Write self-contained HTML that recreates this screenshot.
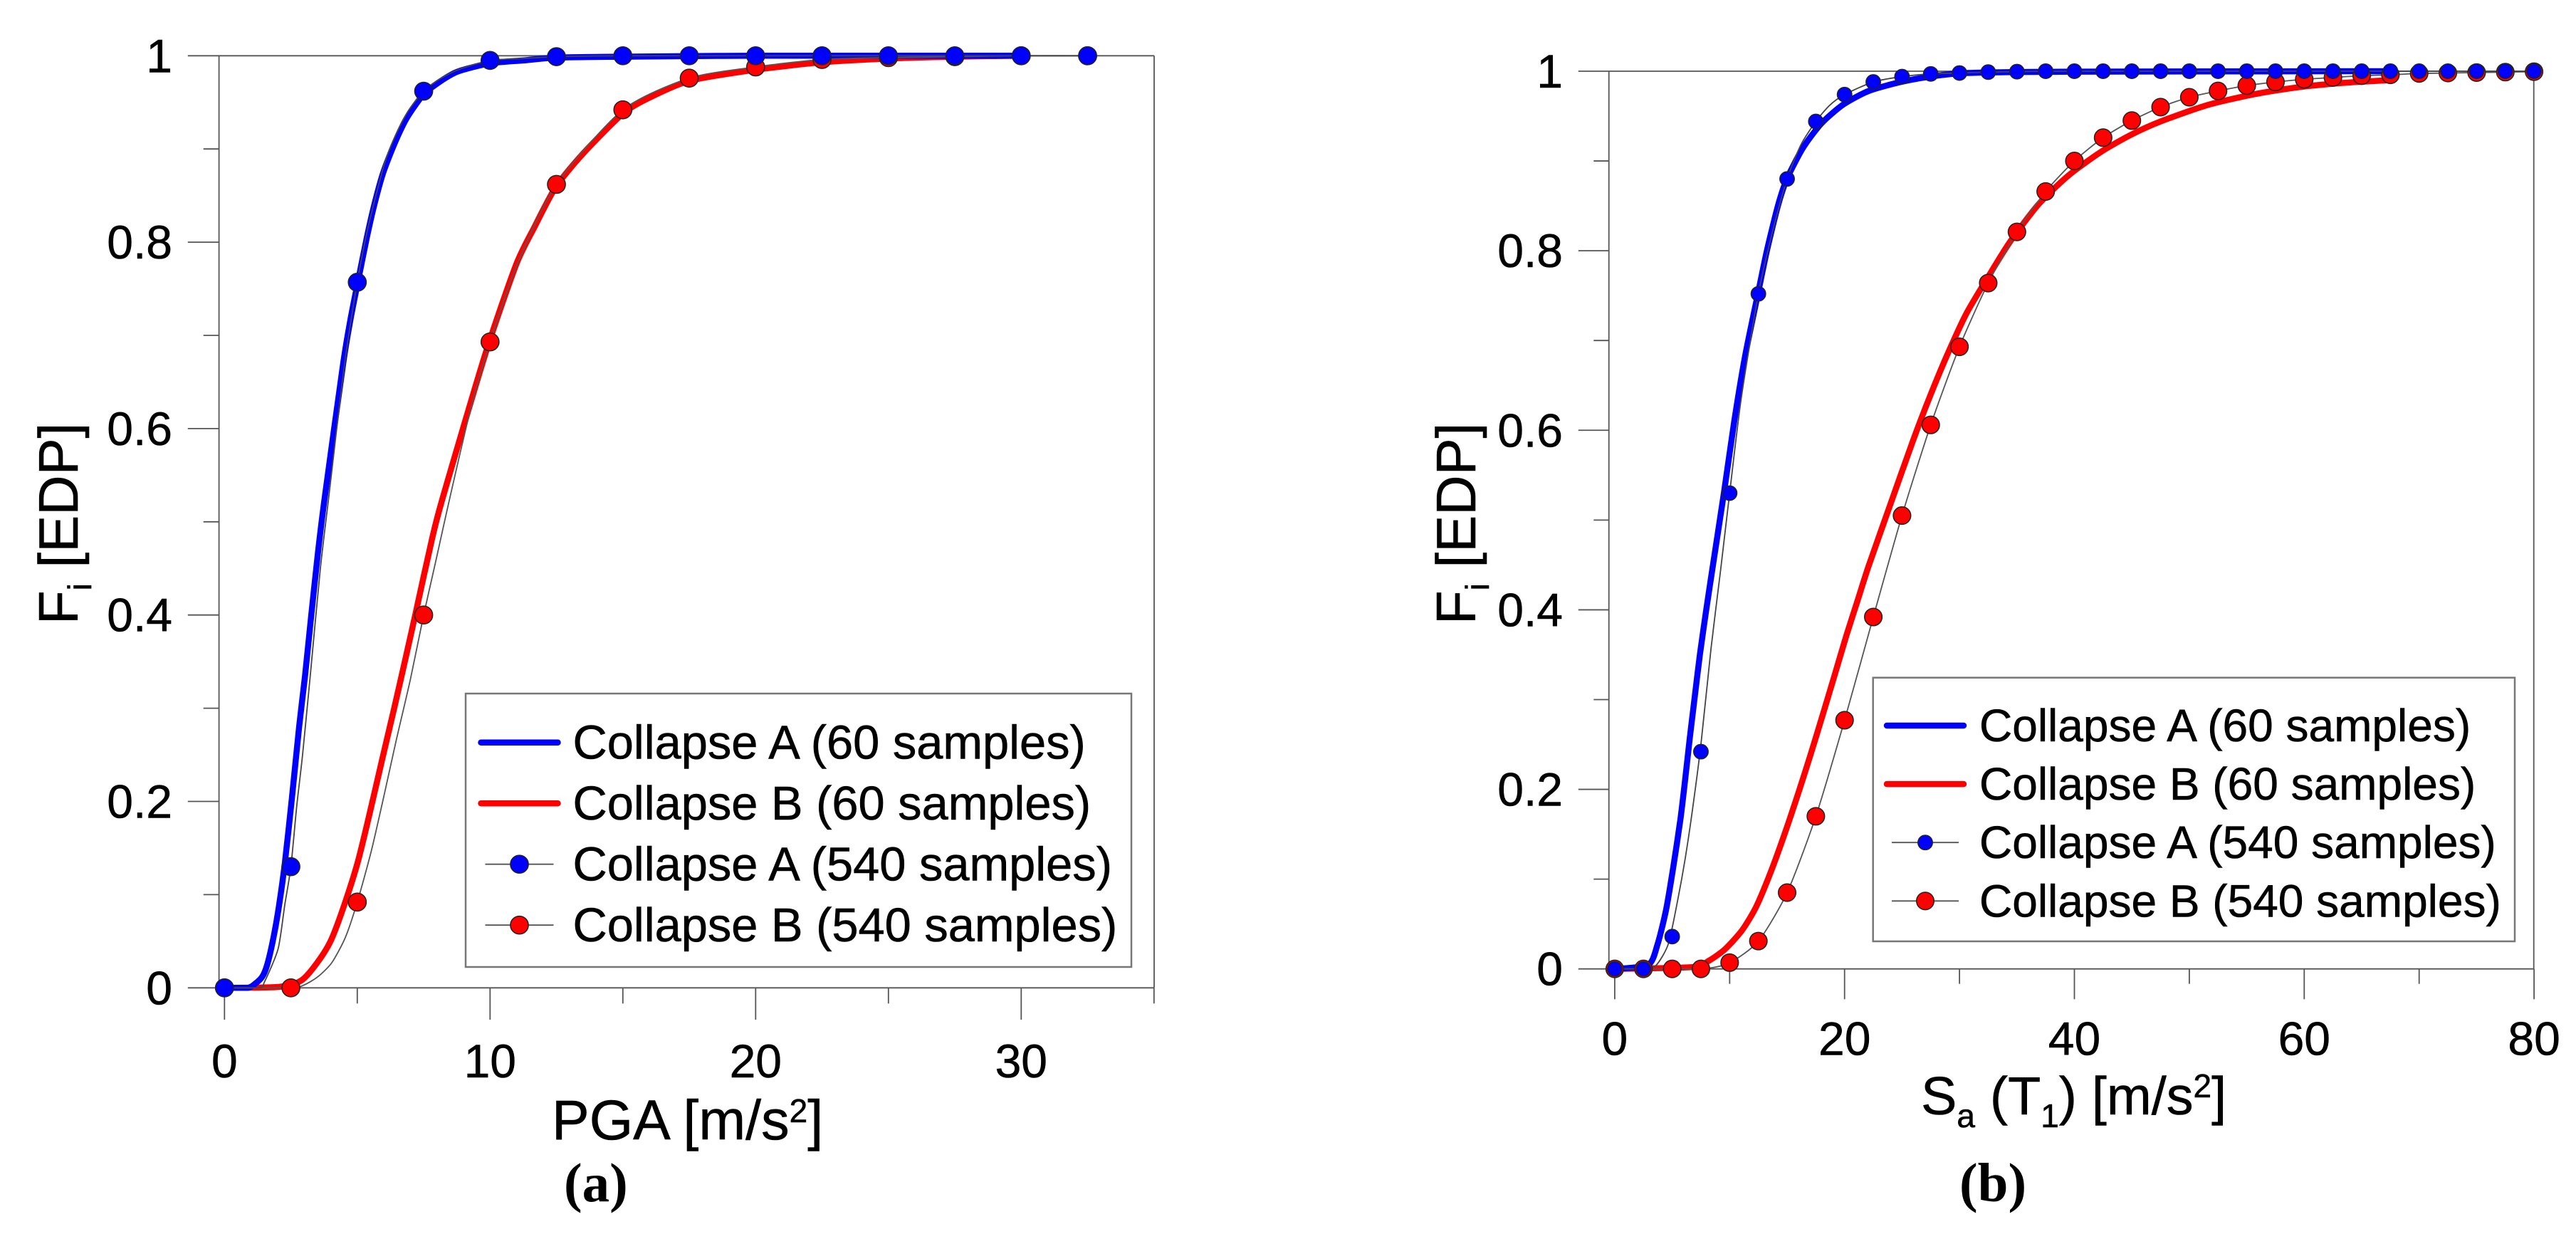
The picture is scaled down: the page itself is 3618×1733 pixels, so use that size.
<!DOCTYPE html>
<html lang="en">
<head>
<meta charset="utf-8">
<title>Fragility curves: PGA and Sa(T1)</title>
<style>
html,body{margin:0;padding:0;background:#fff;width:3618px;height:1733px;overflow:hidden}
svg{display:block}
text{font-family:"Liberation Sans",Arial,sans-serif;fill:#000;stroke:#000;stroke-width:.6px}
.cap{font-family:"Liberation Serif","Times New Roman",serif;font-weight:bold;font-size:77px;stroke:none}
</style>
</head>
<body>
<svg id="fig" xmlns="http://www.w3.org/2000/svg" width="3618" height="1733" viewBox="0 0 3618 1733">
<rect width="3618" height="1733" fill="#fff"/>
<g id="panelA"></g>
<g id="panelB"></g>
<text transform="translate(109,877) rotate(-90)" font-size="78">F<tspan font-size="46" dy="19">i</tspan><tspan dy="-19"> [EDP]</tspan></text>
<text x="775" y="1600" font-size="79">PGA [m/s<tspan font-size="46" dy="-24">2</tspan><tspan dy="24">]</tspan></text>
<text class="cap" x="792" y="1687">(a)</text>
<text transform="translate(2072,877) rotate(-90)" font-size="78">F<tspan font-size="46" dy="19">i</tspan><tspan dy="-19"> [EDP]</tspan></text>
<text x="2698" y="1565" font-size="75.5">S<tspan font-size="46" dy="18">a</tspan><tspan dy="-18"> (T</tspan><tspan font-size="46" dy="18">1</tspan><tspan dy="-18">) [m/s</tspan><tspan font-size="46" dy="-24">2</tspan><tspan dy="24">]</tspan></text>
<text class="cap" x="2752" y="1687">(b)</text>
</svg>
<script>
// ---------- Panel A data (PGA) ----------
const aXTicks = [0, 10, 20, 30];
const aXMinor = [5, 15, 25, 35];
const yTicks = [0, 0.2, 0.4, 0.6, 0.8, 1];
const yTickLabels = ["0", "0.2", "0.4", "0.6", "0.8", "1"];
const yMinor = [0.1, 0.3, 0.5, 0.7, 0.9];

const aBlueFitX = [0, 0.88, 1.15, 1.42, 1.6, 1.81, 2.02, 2.27, 2.54, 2.81, 3.03, 3.25, 3.52, 3.77, 4.47, 4.75, 5.02, 5.36, 5.64, 5.97, 6.39, 6.86, 7.48, 8.1, 8.78, 10, 11.25, 12.5, 15, 20, 30];
const aBlueFitY = [0, 0, 0.0043, 0.0118, 0.024, 0.049, 0.082, 0.133, 0.204, 0.28, 0.334, 0.395, 0.467, 0.525, 0.67, 0.718, 0.757, 0.805, 0.84, 0.874, 0.905, 0.933, 0.958, 0.972, 0.983, 0.992, 0.995, 0.998, 0.999, 1, 1];
const aRedFitX = [0, 2.05, 2.99, 4.01, 5, 5.97, 6.39, 6.83, 7.19, 7.81, 8.21, 9.8, 10.97, 11.65, 12.47, 13.5, 15, 16, 17.5, 20, 22.5, 25, 27.5, 30];
const aRedFitY = [0, 0.001, 0.01, 0.051, 0.133, 0.249, 0.3, 0.355, 0.401, 0.481, 0.525, 0.678, 0.775, 0.815, 0.859, 0.895, 0.938, 0.955, 0.973, 0.985, 0.993, 0.997, 0.999, 1];
const aBlueThinX = [0, 1.3, 1.51, 2.02, 2.27, 2.5, 2.72, 2.94, 3.25, 3.61, 3.92, 4.5, 5, 5.4, 6, 6.4, 6.9, 7.5, 8.1, 8.8, 10, 11.25, 12.5, 15, 20, 32.5];
const aBlueThinY = [0, 0, 0.0066, 0.042, 0.089, 0.13, 0.195, 0.25, 0.341, 0.45, 0.525, 0.665, 0.757, 0.815, 0.882, 0.912, 0.94, 0.962, 0.975, 0.985, 0.995, 0.997, 0.999, 1, 1, 1];
const aRedThinX = [0, 2.5, 2.99, 3.52, 4.04, 4.55, 5, 5.53, 6.02, 6.47, 7, 7.5, 7.95, 8.48, 9.3, 10, 11, 12.5, 15, 17.5, 20, 22.5, 25, 27.5, 30, 32.5];
const aRedThinY = [0, 0, 0.003, 0.012, 0.027, 0.054, 0.092, 0.147, 0.208, 0.266, 0.331, 0.4, 0.457, 0.525, 0.625, 0.693, 0.775, 0.862, 0.942, 0.976, 0.988, 0.996, 0.998, 0.999, 1, 1];
const aMarkerX = [0, 2.5, 5, 7.5, 10, 12.5, 15, 17.5, 20, 22.5, 25, 27.5, 30, 32.5];
const aBlueMarkers = [0, 0.13, 0.757, 0.962, 0.995, 0.999, 1, 1, 1, 1, 1, 1, 1, 1];
const aRedMarkers = [0, 0, 0.092, 0.4, 0.693, 0.862, 0.942, 0.976, 0.988, 0.996, 0.998, 0.999, 1, 1];

// ---------- Panel B data (Sa) ----------
const bXTicks = [0, 20, 40, 60, 80];
const bXMinor = [10, 30, 50, 70];
const bBlueFitX = [0, 2.92, 3.74, 4.47, 5.09, 5.71, 6.12, 6.53, 6.97, 7.42, 7.94, 8.49, 9.5, 10.4, 11.35, 12.46, 13.24, 14.2, 14.98, 16.4, 18, 19.9, 22.1, 24.9, 27.5, 30.6, 40, 67.4];
const bBlueFitY = [0, 0.0045, 0.028, 0.066, 0.113, 0.166, 0.21, 0.257, 0.304, 0.351, 0.398, 0.445, 0.53, 0.61, 0.683, 0.752, 0.8, 0.85, 0.88, 0.915, 0.942, 0.963, 0.978, 0.988, 0.994, 0.998, 0.9995, 1];
const bRedFitX = [0, 6.74, 8.18, 9.6, 11.08, 12.3, 13.55, 14.8, 16.03, 17.05, 18.1, 19.13, 20.15, 21.2, 22.1, 24, 26, 27.5, 28.9, 30.6, 32.5, 34.4, 36.9, 39.5, 42.3, 44.9, 47.5, 51.5, 55.5, 59.4, 63.4, 67.4];
const bRedFitY = [0, 0.002, 0.009, 0.022, 0.043, 0.069, 0.107, 0.151, 0.198, 0.239, 0.283, 0.327, 0.371, 0.413, 0.449, 0.518, 0.59, 0.64, 0.683, 0.73, 0.771, 0.81, 0.852, 0.884, 0.91, 0.929, 0.944, 0.962, 0.974, 0.982, 0.987, 0.99];
const bBlueThinX = [0, 2.5, 3.6, 4.67, 5.5, 6.12, 6.74, 7.5, 8.38, 9.22, 10, 11, 12.5, 13.8, 15, 16.2, 17.5, 18.7, 20, 22.5, 25, 27.5, 30, 32.5, 35, 40, 80];
const bBlueThinY = [0, 0, 0.004, 0.028, 0.078, 0.122, 0.175, 0.25, 0.357, 0.445, 0.53, 0.635, 0.752, 0.825, 0.88, 0.918, 0.944, 0.962, 0.974, 0.988, 0.994, 0.997, 0.998, 0.999, 0.9995, 1, 1];
const bRedThinX = [0, 7.5, 10, 12.5, 15, 17.5, 20, 22.5, 25, 27.5, 30, 32.5, 35, 37.5, 40, 42.5, 45, 47.5, 50, 52.5, 55, 57.5, 60, 62.5, 65, 67.5, 70, 72.5, 75, 77.5, 80];
const bMarkerX = [0, 2.5, 5, 7.5, 10, 12.5, 15, 17.5, 20, 22.5, 25, 27.5, 30, 32.5, 35, 37.5, 40, 42.5, 45, 47.5, 50, 52.5, 55, 57.5, 60, 62.5, 65, 67.5, 70, 72.5, 75, 77.5, 80];
const bBlueMarkers = [0, 0, 0.036, 0.242, 0.53, 0.752, 0.88, 0.944, 0.974, 0.988, 0.994, 0.997, 0.998, 0.999, 0.9995, 1, 1, 1, 1, 1, 1, 1, 1, 1, 1, 1, 1, 1, 1, 1, 1, 1, 1];
const bRedMarkers = [0, 0, 0, 0, 0.007, 0.031, 0.085, 0.17, 0.277, 0.392, 0.505, 0.606, 0.693, 0.764, 0.821, 0.866, 0.9, 0.926, 0.945, 0.96, 0.971, 0.978, 0.984, 0.988, 0.991, 0.993, 0.995, 0.996, 0.9975, 0.998, 0.9985, 0.999, 0.9995];
const bRedThinY = [0, 0, 0.007, 0.031, 0.085, 0.17, 0.277, 0.392, 0.505, 0.606, 0.693, 0.764, 0.821, 0.866, 0.9, 0.926, 0.945, 0.96, 0.971, 0.978, 0.984, 0.988, 0.991, 0.993, 0.995, 0.996, 0.9975, 0.998, 0.9985, 0.999, 0.9995];

const legendLabels = ["Collapse A (60 samples)", "Collapse B (60 samples)", "Collapse A (540 samples)", "Collapse B (540 samples)"];

const SVGNS = "http://www.w3.org/2000/svg";
function mk(parent, tag, attrs) {
  const el = document.createElementNS(SVGNS, tag);
  for (const k in attrs) el.setAttribute(k, attrs[k]);
  parent.appendChild(el);
  return el;
}
function smoothPath(pts) {
  let d = "M" + pts[0][0].toFixed(2) + " " + pts[0][1].toFixed(2);
  for (let i = 0; i < pts.length - 1; i++) {
    const p0 = pts[Math.max(i - 1, 0)], p1 = pts[i], p2 = pts[i + 1], p3 = pts[Math.min(i + 2, pts.length - 1)];
    const k = 0.12;
    const c1y = Math.min(Math.max(p1[1] + (p2[1] - p0[1]) * k, Math.min(p1[1], p2[1])), Math.max(p1[1], p2[1]));
    const c2y = Math.min(Math.max(p2[1] - (p3[1] - p1[1]) * k, Math.min(p1[1], p2[1])), Math.max(p1[1], p2[1]));
    d += "C" + (p1[0] + (p2[0] - p0[0]) * k).toFixed(2) + " " + c1y.toFixed(2) + " " + (p2[0] - (p3[0] - p1[0]) * k).toFixed(2) + " " + c2y.toFixed(2) + " " + p2[0].toFixed(2) + " " + p2[1].toFixed(2);
  }
  return d;
}

function drawPanel(cfg) {
  const g = cfg.g;
  const sx = v => cfg.x0 + cfg.xScale * v;
  const sy = v => cfg.y0 - cfg.yScale * v;
  const axisColor = "#555";
  const axes = mk(g, "g", { stroke: axisColor, "stroke-width": 1.8, fill: "none" });
  
  

  function seg(x1, y1, x2, y2, name) {
    const l = mk(axes, "line", { x1: x1, y1: y1, x2: x2, y2: y2 });
    
    
  }
  seg(cfg.axisX, sy(1), cfg.axisX, sy(0), "y-axis-line");
  seg(cfg.right, sy(1), cfg.right, sy(0), "right-axis-line");
  cfg.xTicks.forEach(v => {
    seg(sx(v), sy(0), sx(v), cfg.xMajorEnd, "x-major-tick");
    const t = mk(g, "text", { x: sx(v), y: cfg.xLabelY, "font-size": 66, "text-anchor": "middle" });
    t.textContent = String(v);
    
    
  });
  cfg.xMinor.forEach(v => seg(sx(v), sy(0), sx(v), cfg.xMinorEnd, "x-minor-tick"));
  yTicks.forEach((v, i) => {
    const endX = (v === 0 || v === 1) ? cfg.right : cfg.axisX;
    seg(cfg.yMajorEnd, sy(v), endX, sy(v), "y-major-tick");
    const t = mk(g, "text", { x: cfg.yLabelX, y: sy(v) + 23, "font-size": 66, "text-anchor": "end" });
    t.textContent = yTickLabels[i];
    
    
  });
  yMinor.forEach(v => seg(cfg.yMinorEnd, sy(v), cfg.axisX, sy(v), "y-minor-tick"));

  function curve(xs, ys, color, width, name) {
    const pts = xs.map((x, i) => [sx(x), sy(ys[i])]);
    const p = mk(g, "path", { d: smoothPath(pts), fill: "none", stroke: color, "stroke-width": width, "stroke-linejoin": "round", "stroke-linecap": "round" });
    
    
  }
  curve(cfg.redFitX, cfg.redFitY, "#ff0000", 8.5, "collapse-b-60-curve");
  curve(cfg.blueFitX, cfg.blueFitY, "#0000ff", 8.5, "collapse-a-60-curve");
  curve(cfg.redThinX, cfg.redThinY, "#555", 1.8, "collapse-b-540-line");
  curve(cfg.blueThinX, cfg.blueThinY, "#444", 1.8, "collapse-a-540-line");

  cfg.markerX.forEach((x, i) => {
    const c = mk(g, "circle", { cx: sx(x), cy: sy(cfg.redMarkers[i]), r: cfg.redR, fill: "#ff0000", stroke: "#222", "stroke-width": 1.5 });
    
    
  });
  cfg.markerX.forEach((x, i) => {
    const c = mk(g, "circle", { cx: sx(x), cy: sy(cfg.blueMarkers[i]), r: cfg.blueR, fill: "#0000ff", stroke: "#222", "stroke-width": 1.5 });
    
    
  });

  const L = cfg.legend;
  const lg = mk(g, "g", {});
  
  
  const box = mk(lg, "rect", { x: L.left, y: L.top, width: L.right - L.left, height: L.bottom - L.top, fill: "#fff", stroke: "#777", "stroke-width": 2.5 });
  
  
  const colors = ["#0000ff", "#ff0000", "#0000ff", "#ff0000"];
  const radii = [0, 0, cfg.blueR, cfg.redR];
  legendLabels.forEach((label, i) => {
    const y = L.rowY + L.rowStep * i;
    if (i < 2) {
      const s = mk(lg, "line", { x1: L.cx - L.thickHalf, y1: y, x2: L.cx + L.thickHalf, y2: y, stroke: colors[i], "stroke-width": 8.5, "stroke-linecap": "round" });
      
      
    } else {
      const s = mk(lg, "line", { x1: L.cx - L.thinHalf, y1: y, x2: L.cx + L.thinHalf, y2: y, stroke: "#555", "stroke-width": 1.8 });
      
      
      const m = mk(lg, "circle", { cx: L.cx, cy: y, r: radii[i], fill: colors[i], stroke: "#222", "stroke-width": 1.5 });
      
      
    }
    const t = mk(lg, "text", { x: L.textX, y: y + L.baseOff, "font-size": L.fontSize });
    t.textContent = label;
    
    
  });
}

drawPanel({
  g: document.getElementById("panelA"),
  x0: 315.3, xScale: 37.3, y0: 1387.3, yScale: 1309,
  axisX: 307.6, right: 1621, xMajorEnd: 1432, xMinorEnd: 1409.3, yMajorEnd: 263.8, yMinorEnd: 285.7,
  xLabelY: 1513, yLabelX: 242,
  xTicks: aXTicks, xMinor: aXMinor,
  blueFitX: aBlueFitX, blueFitY: aBlueFitY, redFitX: aRedFitX, redFitY: aRedFitY,
  blueThinX: aBlueThinX, blueThinY: aBlueThinY, redThinX: aRedThinX, redThinY: aRedThinY,
  markerX: aMarkerX, blueMarkers: aBlueMarkers, redMarkers: aRedMarkers, blueR: 12.6, redR: 12.6,
  legend: { left: 654, top: 974, right: 1589, bottom: 1358, rowY: 1042.7, rowStep: 85.5, cx: 729.5, thickHalf: 54, thinHalf: 48, textX: 804.5, baseOff: 23, fontSize: 66.8 }
});
drawPanel({
  g: document.getElementById("panelB"),
  x0: 2267.9, xScale: 16.14, y0: 1360.7, yScale: 1260.7,
  axisX: 2259.7, right: 3558.7, xMajorEnd: 1403.3, xMinorEnd: 1381.7, yMajorEnd: 2216.8, yMinorEnd: 2238.3,
  xLabelY: 1481.5, yLabelX: 2195,
  xTicks: bXTicks, xMinor: bXMinor,
  blueFitX: bBlueFitX, blueFitY: bBlueFitY, redFitX: bRedFitX, redFitY: bRedFitY,
  blueThinX: bBlueThinX, blueThinY: bBlueThinY, redThinX: bRedThinX, redThinY: bRedThinY,
  markerX: bMarkerX, blueMarkers: bBlueMarkers, redMarkers: bRedMarkers, blueR: 10.2, redR: 12.3,
  legend: { left: 2630.7, top: 951.7, right: 3532, bottom: 1322, rowY: 1019, rowStep: 82.1, cx: 2704, thickHalf: 54, thinHalf: 47, textX: 2780, baseOff: 22, fontSize: 64 }
});
</script>
</body>
</html>
